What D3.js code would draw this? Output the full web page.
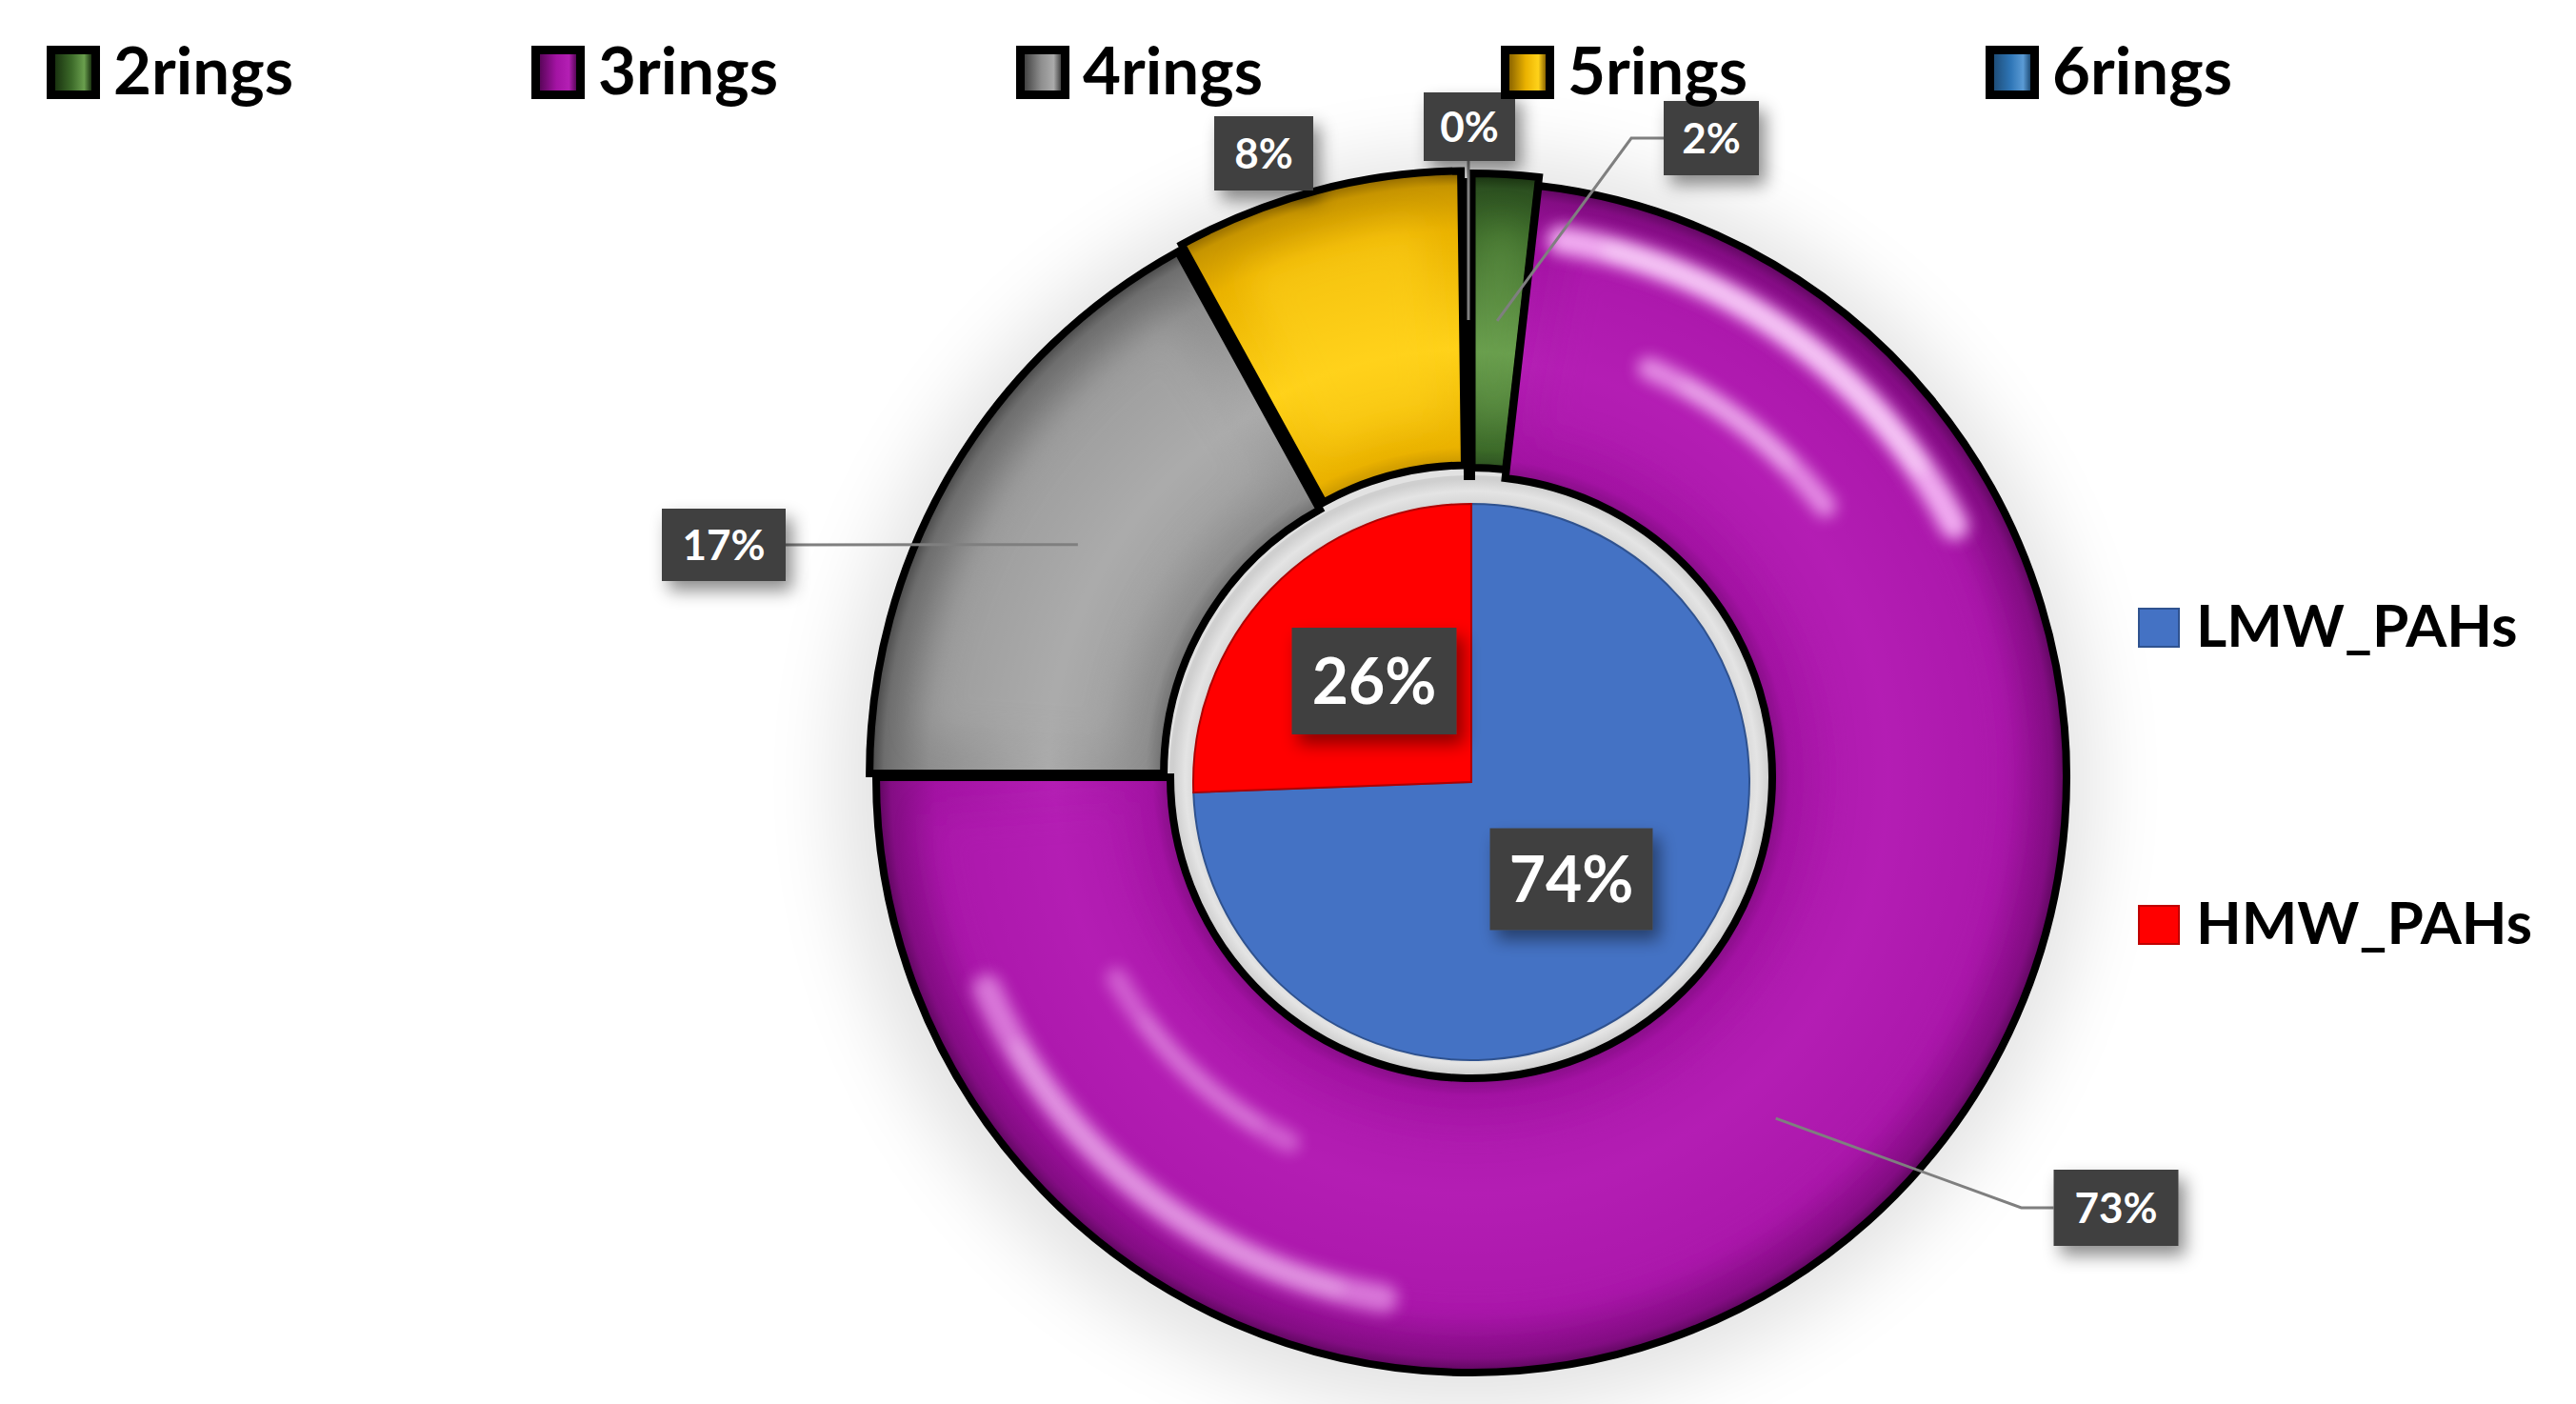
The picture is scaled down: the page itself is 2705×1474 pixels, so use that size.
<!DOCTYPE html>
<html><head><meta charset="utf-8">
<script src="https://cdn.jsdelivr.net/npm/d3@7"></script>
<style>html,body{margin:0;padding:0;background:#fff;} svg{display:block;}</style>
</head><body>
<svg id="chart" width="2705" height="1474"></svg>
<script>
// ---------- DATA ----------
const outerCategories = ["2rings", "3rings", "4rings", "5rings", "6rings"];
const outerValues     = [1.8, 73.2, 17.0, 7.8, 0.2];
const outerLabels     = ["2%", "73%", "17%", "8%", "0%"];
const innerCategories = ["LMW_PAHs", "HMW_PAHs"];
const innerValues     = [74.4, 25.6];
const innerLabels     = ["74%", "26%"];

// ---------- STYLE / LAYOUT ----------
const outerStyle = {
  "2rings": {base:"#3c6a29", light:"#6a9f4e", mid:"#2c5020", dark:"#1a3310", explode:9},
  "3rings": {base:"#a313a3", light:"#b41fb4", mid:"#840d84", dark:"#5a065a", explode:0},
  "4rings": {base:"#8e8e8e", light:"#ababab", mid:"#6e6e6e", dark:"#444444", explode:8},
  "5rings": {base:"#eab200", light:"#ffd21a", mid:"#c79500", dark:"#8c6500", explode:12},
  "6rings": {base:"#2e75b6", light:"#5b9bd5", mid:"#255f94", dark:"#1f4e79", explode:0}
};
const innerColors = {"LMW_PAHs":"#4472c4", "HMW_PAHs":"#ff0000"};
// label box anchors (relative to chart centre) and sizes
const outerLabelLayout = {
  "2rings": {dx:252,  dy:-671, w:100, h:78, leader:"elbowLeft"},
  "3rings": {dx:677,  dy:452,  w:131, h:80, leader:"elbowLeft"},
  "4rings": {dx:-785, dy:-244, w:130, h:76, leader:"right"},
  "5rings": {dx:-218, dy:-655, w:104, h:78, leader:"none"},
  "6rings": {dx:-2,   dy:-683, w:96,  h:72, leader:"down"}
};
const innerLabelLayout = {
  "LMW_PAHs": {dx:105,  dy:107,  w:171, h:107},
  "HMW_PAHs": {dx:-102, dy:-101, w:173, h:112}
};

const cx = 1545, cy = 816;
const R = 625, r0 = 316, bandR = 313, rPie = 292, leaderR = 480;
const FONT = "Lato, 'Open Sans', 'DejaVu Sans', sans-serif";

const svg = d3.select("#chart");
const defs = svg.append("defs");

// filters
const fs = defs.append("filter").attr("id","boxShadow")
  .attr("x","-40%").attr("y","-40%").attr("width","190%").attr("height","200%");
fs.append("feDropShadow").attr("dx",7).attr("dy",10).attr("stdDeviation",9)
  .attr("flood-color","#000").attr("flood-opacity",0.45);
function blurFilter(id, s){
  defs.append("filter").attr("id",id).attr("x","-50%").attr("y","-50%")
    .attr("width","200%").attr("height","200%")
    .append("feGaussianBlur").attr("stdDeviation",s);
}
blurFilter("blur8",8); blurFilter("blur10",10); blurFilter("blur40",40); blurFilter("blur18",18);

// background glow / shadow
svg.append("circle").attr("cx",cx-6).attr("cy",cy+6).attr("r",R+34)
  .attr("fill","#000").attr("opacity",0.11).attr("filter","url(#blur40)");

// ---------- OUTER RING ----------
const pie = d3.pie().sort(null).value(d => d.v).startAngle(0).endAngle(2*Math.PI);
const outerData = pie(outerCategories.map((c,i)=>({c, v:outerValues[i], label:outerLabels[i]})));
const innerData = pie(innerCategories.map((c,i)=>({c, v:innerValues[i], label:innerLabels[i]})));

const arcOuter = d3.arc().innerRadius(r0).outerRadius(R);
const arcLeader = d3.arc().innerRadius(leaderR).outerRadius(leaderR);

// light grey band behind inner pie
const bandGrad = defs.append("radialGradient").attr("id","bandGrad")
  .attr("gradientUnits","userSpaceOnUse").attr("cx",0).attr("cy",0).attr("r",bandR);
bandGrad.append("stop").attr("offset",0.9).attr("stop-color","#d0d0d0");
bandGrad.append("stop").attr("offset",0.96).attr("stop-color","#e4e4e4");
bandGrad.append("stop").attr("offset",1).attr("stop-color","#cfcfcf");

const gRing = svg.append("g").attr("transform",`translate(${cx},${cy})`);
gRing.append("circle").attr("r",bandR+4).attr("fill","url(#bandGrad)");

outerData.forEach((d,i) => {
  const st = outerStyle[d.data.c];
  const mid = (d.startAngle + d.endAngle)/2;
  const ex = st.explode*Math.sin(mid), ey = -st.explode*Math.cos(mid);
  const g = gRing.append("g").attr("transform",`translate(${ex},${ey})`);
  const gid = "og"+i;
  const grad = defs.append("radialGradient").attr("id",gid)
    .attr("gradientUnits","userSpaceOnUse").attr("cx",0).attr("cy",0).attr("r",R);
  const k = r0/R;
  [[k,st.mid],[k+0.03,st.base],[0.7,st.light],[0.9,st.base],[0.975,st.mid],[1,st.dark]]
    .forEach(s => grad.append("stop").attr("offset",s[0]).attr("stop-color",s[1]));
  const clipId = "oc"+i;
  defs.append("clipPath").attr("id",clipId).append("path").attr("d",arcOuter(d));
  g.append("path").attr("d",arcOuter(d)).attr("fill",`url(#${gid})`);
  // soft bevel highlight inside the slice
  const inset = d3.arc().innerRadius(r0+50).outerRadius(R-55);
  const span = d.endAngle - d.startAngle;
  if (span > 0.05) {
    const shrink = Math.min(0.07, span*0.2);
    const ins = {startAngle:d.startAngle+shrink, endAngle:d.endAngle-shrink};
    g.append("path").attr("clip-path",`url(#${clipId})`)
      .attr("d",inset(ins)).attr("fill",st.light).attr("opacity",0.5)
      .attr("filter","url(#blur18)");
  }
  // glossy highlights on the big purple slice
  if (d.data.c === "3rings") {
    const streaks = [
      {r:572, a0:8,   a1:64,  w:15, op:0.85},
      {r:468, a0:22,  a1:54,  w:12, op:0.65},
      {r:555, a0:188, a1:248, w:15, op:0.55},
      {r:428, a0:205, a1:242, w:11, op:0.4}
    ];
    streaks.forEach(s => {
      const a = d3.arc().innerRadius(s.r - s.w).outerRadius(s.r + s.w)
        .startAngle(s.a0*Math.PI/180).endAngle(s.a1*Math.PI/180).cornerRadius(s.w);
      g.append("path").attr("clip-path",`url(#${clipId})`).attr("d",a())
        .attr("fill","#ffc8ff").attr("opacity",s.op).attr("filter","url(#blur8)");
      const core = d3.arc().innerRadius(s.r - s.w*0.3).outerRadius(s.r + s.w*0.3)
        .startAngle((s.a0+6)*Math.PI/180).endAngle((s.a1-8)*Math.PI/180).cornerRadius(s.w*0.3);
      g.append("path").attr("clip-path",`url(#${clipId})`).attr("d",core())
        .attr("fill","#ffffff").attr("opacity",s.op*0.7).attr("filter","url(#blur8)");
    });
  }
  g.append("path").attr("d",arcOuter(d)).attr("fill","none")
    .attr("stroke","#000").attr("stroke-width",8).attr("stroke-linejoin","miter");
});

// ---------- INNER PIE ----------
const arcInner = d3.arc().innerRadius(0).outerRadius(rPie);
const gPie = svg.append("g").attr("transform",`translate(${cx},${cy+5})`);
innerData.forEach(d => {
  gPie.append("path").attr("d",arcInner(d)).attr("fill",innerColors[d.data.c])
    .attr("stroke", d.data.c === "HMW_PAHs" ? "#b00000" : "#2f528f").attr("stroke-width",2);
});

// ---------- LEADER LINES ----------
const gLead = svg.append("g").attr("transform",`translate(${cx},${cy})`)
  .attr("fill","none").attr("stroke","#7f7f7f").attr("stroke-width",3);
outerData.forEach(d => {
  const L = outerLabelLayout[d.data.c];
  const [px,py] = arcLeader.centroid(d);
  let pts = null;
  if (L.leader === "elbowLeft") {
    const bx = L.dx - L.w/2;
    pts = [[px,py],[bx-34,L.dy],[bx,L.dy]];
  } else if (L.leader === "right") {
    pts = [[px,py],[L.dx + L.w/2, L.dy]];
  } else if (L.leader === "down") {
    pts = [[px,py],[px, L.dy + L.h/2]];
  }
  if (pts) gLead.append("path").attr("d", d3.line()(pts));
});

// ---------- LABEL BOXES ----------
function labelBox(g, x, y, w, h, text, size){
  const b = g.append("g").attr("transform",`translate(${x},${y})`);
  b.append("rect").attr("x",-w/2).attr("y",-h/2).attr("width",w).attr("height",h)
    .attr("fill","#404040").attr("filter","url(#boxShadow)");
  b.append("text").attr("text-anchor","middle").attr("dy","0.36em")
    .attr("font-family",FONT).attr("font-weight",700).attr("font-size",size)
    .attr("fill","#fff").text(text);
}
const gLab = svg.append("g").attr("transform",`translate(${cx},${cy})`);
outerData.forEach(d => {
  const L = outerLabelLayout[d.data.c];
  labelBox(gLab, L.dx, L.dy, L.w, L.h, d.data.label, 44);
});
innerData.forEach(d => {
  const L = innerLabelLayout[d.data.c];
  labelBox(gLab, L.dx, L.dy, L.w, L.h, d.data.label, 66);
});

// ---------- TOP LEGEND ----------
const gLeg = svg.append("g");
outerCategories.forEach((c,i) => {
  const st = outerStyle[c];
  const x = 49 + i*509, y = 48;
  const lg = defs.append("linearGradient").attr("id","lg"+i);
  [[0,st.dark],[0.45,st.base],[0.8,st.light],[1,st.dark]]
    .forEach(s => lg.append("stop").attr("offset",s[0]).attr("stop-color",s[1]));
  gLeg.append("rect").attr("x",x).attr("y",y).attr("width",56).attr("height",56).attr("fill","#000");
  gLeg.append("rect").attr("x",x+9).attr("y",y+9).attr("width",38).attr("height",38).attr("fill",`url(#lg${i})`);
  gLeg.append("text").attr("x",x+70).attr("y",99)
    .attr("font-family",FONT).attr("font-weight",700).attr("font-size",69)
    .attr("fill","#000").text(c);
});

// ---------- RIGHT LEGEND ----------
innerCategories.forEach((c,i) => {
  const y = i === 0 ? 679 : 991;
  svg.append("rect").attr("x",2246).attr("y",y-40).attr("width",42).attr("height",40)
    .attr("fill",innerColors[c]).attr("stroke", i===0 ? "#2f528f" : "#c00000").attr("stroke-width",2);
  svg.append("text").attr("x",2306).attr("y",y)
    .attr("font-family",FONT).attr("font-weight",700).attr("font-size",62)
    .attr("fill","#000").text(c);
});
</script>
</body></html>
